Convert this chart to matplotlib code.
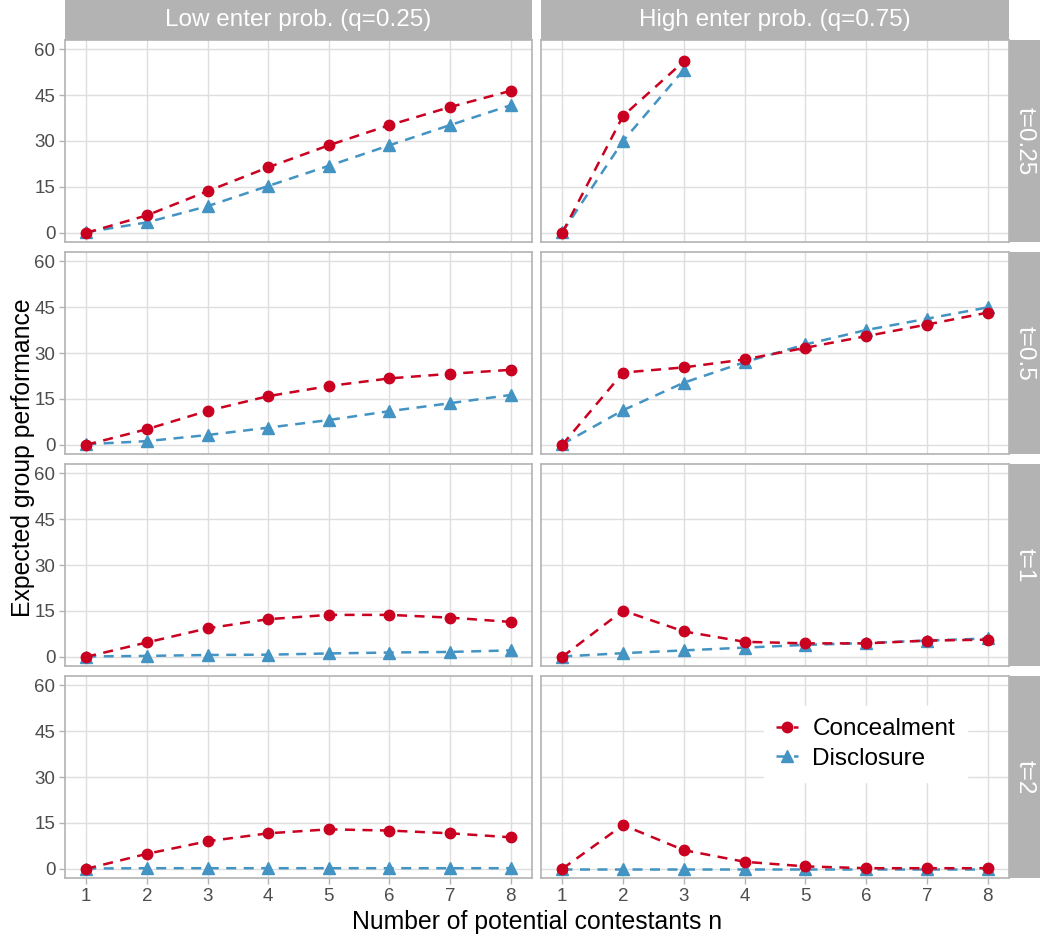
import matplotlib
matplotlib.use("Agg")
import matplotlib.pyplot as plt

plt.rcParams['font.family'] = ['Liberation Sans', 'DejaVu Sans']

# data
n = [1, 2, 3, 4, 5, 6, 7, 8]
col_labels = ["Low enter prob. (q=0.25)", "High enter prob. (q=0.75)"]
row_labels = ["t=0.25", "t=0.5", "t=1", "t=2"]

# q = 0.25
conceal_q25 = [
    [0, 5.7, 13.6, 21.4, 28.6, 35.2, 41.1, 46.4],
    [0, 5.1, 11.1, 15.9, 19.2, 21.7, 23.2, 24.5],
    [0, 4.7, 9.3, 12.3, 13.7, 13.7, 12.8, 11.4],
    [0, 4.9, 9.0, 11.6, 12.9, 12.5, 11.6, 10.3],
]
disclose_q25 = [
    [0.2, 3.4, 8.7, 15.3, 21.9, 28.6, 35.2, 41.7],
    [0.2, 1.2, 3.2, 5.6, 8.1, 11.0, 13.6, 16.3],
    [0.1, 0.3, 0.6, 0.7, 1.1, 1.4, 1.6, 2.1],
    [0.1, 0.2, 0.2, 0.2, 0.2, 0.2, 0.2, 0.2],
]
# q = 0.75
conceal_q75 = [
    [0, 38.2, 56.0],
    [0, 23.6, 25.3, 27.9, 31.7, 35.5, 39.3, 43.2],
    [0, 15.1, 8.3, 4.9, 4.4, 4.4, 5.3, 5.6],
    [0, 14.3, 6.1, 2.3, 0.8, 0.2, 0.2, 0.2],
]
disclose_q75 = [
    [0.2, 30.0, 53.3],
    [0.2, 11.3, 20.3, 27.0, 32.8, 37.5, 41.2, 44.9],
    [0.1, 1.2, 2.1, 3.0, 3.9, 4.5, 5.3, 6.0],
    [0.1, 0.1, 0.1, 0.1, 0.1, 0.1, 0.1, 0.1],
]
conceal = [conceal_q25, conceal_q75]
disclose = [disclose_q25, disclose_q75]

red = "#CA0020"
blue = "#4393C3"
strip_col = "#B3B3B3"
W, H = 1040, 941

fig = plt.figure(figsize=(W / 100, H / 100), dpi=100)


def box(x0, y0, x1, y1):
    # pixel box (top-left origin) -> figure fraction
    return [x0 / W, 1 - y1 / H, (x1 - x0) / W, (y1 - y0) / H]


col_x = [(65, 532), (541, 1009)]
row_y = [(40, 242), (252, 454), (464, 666), (676, 878)]

axes = {}
for r, (y0, y1) in enumerate(row_y):
    for c, (x0, x1) in enumerate(col_x):
        ax = fig.add_axes(box(x0, y0, x1, y1))
        axes[(r, c)] = ax
        xs = n[:len(conceal[c][r])]
        ax.plot(xs, conceal[c][r], color=red, lw=1.8, ls=(0, (4, 3)),
                marker="o", ms=7.5, label="Concealment", zorder=3)
        ax.plot(xs, disclose[c][r], color=blue, lw=1.8, ls=(0, (4, 3)),
                marker="^", ms=9, label="Disclosure", zorder=2)
        ax.set_xlim(0.65, 8.35)
        ax.set_ylim(-3, 63)
        ax.set_xticks(n)
        ax.set_yticks([0, 15, 30, 45, 60])
        ax.grid(True, color="#DEDEDE", lw=1.0)
        ax.set_axisbelow(True)
        for s in ax.spines.values():
            s.set_color(strip_col)
            s.set_linewidth(1.2)
        ax.tick_params(colors=strip_col, labelcolor="#4D4D4D", labelsize=13.5,
                       length=4, width=1, pad=3)
        if c == 1:
            ax.tick_params(axis="y", left=False, labelleft=False)
        if r < 3:
            ax.tick_params(axis="x", bottom=False, labelbottom=False)

# top strips
for c, (x0, x1) in enumerate(col_x):
    sa = fig.add_axes(box(x0, 0, x1, 40))
    sa.set_facecolor(strip_col)
    sa.set_xticks([]); sa.set_yticks([])
    for s in sa.spines.values():
        s.set_visible(False)
    sa.text(0.5, 0.5, col_labels[c], color="white", fontsize=17.5,
            ha="center", va="center", transform=sa.transAxes)

# right strips
for r, (y0, y1) in enumerate(row_y):
    sa = fig.add_axes(box(1009, y0, 1040, y1))
    sa.set_facecolor(strip_col)
    sa.set_xticks([]); sa.set_yticks([])
    for s in sa.spines.values():
        s.set_visible(False)
    sa.text(0.5, 0.5, row_labels[r], color="white", fontsize=17.5,
            ha="center", va="center", rotation=-90, transform=sa.transAxes)

fig.text(537 / W, 1 - 922 / H, "Number of potential contestants n",
         fontsize=17.8, ha="center", va="center")
fig.text(23 / W, 1 - 458 / H, "Expected group performance",
         fontsize=17.8, ha="center", va="center", rotation=90)

leg = axes[(3, 1)].legend(loc="upper left", bbox_to_anchor=(0.45, 0.91),
                          fontsize=17.5, frameon=True, handlelength=0.9,
                          handletextpad=0.6, borderpad=0.5, labelspacing=0.3,
                          fancybox=False)
leg.get_frame().set_facecolor("white")
leg.get_frame().set_edgecolor("white")
leg.get_frame().set_alpha(1)

fig.savefig("out.png", dpi=100)
